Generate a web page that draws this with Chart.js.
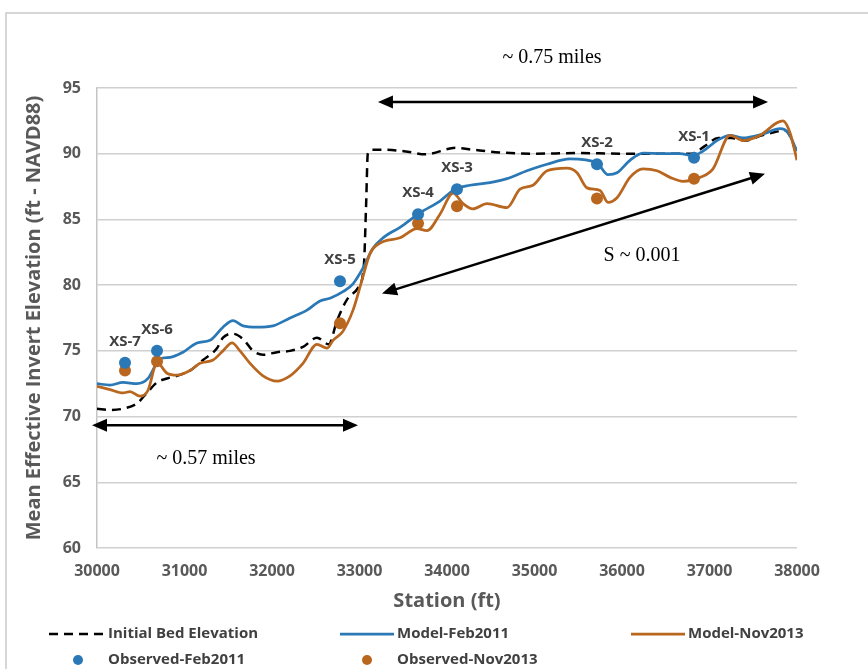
<!DOCTYPE html>
<html><head><meta charset="utf-8">
<script src="https://cdn.jsdelivr.net/npm/chart.js@4/dist/chart.umd.min.js"></script>
<style>html,body{margin:0;padding:0;background:#fff;overflow:hidden}#wrap{width:868px;height:669px;position:relative}</style>
</head><body><div id="wrap"><canvas id="c" width="868" height="669"></canvas></div>
<script>
// ---- data ----
const bedStation = [30000,30149,30297,30457,30570,30686,30800,30914,31063,31211,31371,31440,31554,31669,31783,31897,32057,32206,32354,32514,32650,32743,32857,32983,33050,33075,33095,33150,33300,33550,33750,34100,34300,34600,35000,35500,36000,36500,36800,36950,37100,37250,37400,37600,37780,37850,37950,38000];
const bedElev    = [70.6,70.5,70.6,71.0,71.8,72.6,72.9,73.1,73.5,74.3,75.2,76.0,76.3,75.9,75.0,74.7,74.9,75.0,75.3,76.0,75.5,77.3,78.9,79.8,81.5,86.0,90.0,90.3,90.3,90.15,89.95,90.45,90.3,90.1,90.0,90.05,90.0,90.0,90.0,90.6,91.2,91.2,91.0,91.4,91.7,91.8,90.9,89.7];

const feb2011Station = [30000,30149,30297,30457,30583,30660,30720,30834,30983,31143,31291,31440,31554,31669,31829,32011,32206,32400,32549,32663,32811,32926,33040,33154,33269,33463,33691,33920,34091,34263,34491,34686,34914,35143,35406,35714,35840,35943,36091,36240,36469,36663,36811,36926,37086,37234,37383,37611,37806,37897,38000];
const feb2011Elev    = [72.5,72.4,72.6,72.5,72.9,73.8,74.4,74.5,74.9,75.6,75.8,76.8,77.3,76.9,76.8,76.9,77.5,78.1,78.8,79.0,79.5,80.1,81.3,82.8,83.6,84.4,85.5,86.4,87.3,87.6,87.8,88.1,88.7,89.2,89.6,89.3,88.4,88.55,89.5,90.05,90.0,90.0,89.85,90.2,91.0,91.4,91.2,91.5,91.9,91.6,90.2];

const nov2013Station = [30000,30149,30297,30377,30491,30583,30686,30800,30914,31063,31177,31326,31440,31543,31634,31749,31897,32057,32206,32354,32514,32629,32697,32811,32926,33029,33120,33234,33463,33657,33771,33920,34069,34183,34297,34457,34686,34834,34983,35143,35371,35486,35600,35749,35840,35943,36091,36240,36400,36549,36697,36891,37040,37234,37383,37577,37771,37840,37920,38000];
const nov2013Elev    = [72.3,72.05,71.8,71.9,71.55,72.0,74.1,73.3,73.15,73.5,74.05,74.3,75.0,75.6,75.0,74.05,73.1,72.7,73.1,74.05,75.5,75.2,75.8,76.5,78.1,80.4,82.4,83.2,83.6,84.3,84.15,85.4,87.0,86.2,85.8,86.2,85.9,87.3,87.6,88.7,88.9,88.55,87.4,87.2,86.3,86.65,88.2,88.85,88.7,88.2,87.9,88.2,88.85,91.4,91.0,91.4,92.35,92.5,91.6,89.5];

const xsLabels  = ['XS-7','XS-6','XS-5','XS-4','XS-3','XS-2','XS-1'];
const xsStation = [30320,30686,32777,33669,34114,35714,36823];
const obsFeb2011 = [74.1,75.0,80.3,85.4,87.3,89.2,89.7];
const obsNov2013 = [73.5,74.2,77.1,84.7,86.0,86.6,88.1];

const seriesNames = ['Initial Bed Elevation','Model-Feb2011','Model-Nov2013','Observed-Feb2011','Observed-Nov2013'];
const xTitle = 'Station (ft)';
const yTitle = 'Mean Effective Invert Elevation (ft - NAVD88)';

// annotation arrows (double headed) in data units
const arrowFromStation = [33211, 29943, 33257];
const arrowFromElev    = [93.94, 69.34, 79.36];
const arrowToStation   = [37669, 32983, 37634];
const arrowToElev      = [93.94, 69.34, 88.47];
const noteTexts   = ['~ 0.75 miles','~ 0.57 miles','S ~ 0.001'];
const noteStation = [35200, 31246, 36229];
const noteElev    = [97.28, 66.76, 82.25];

// ---- styles ----
const BLUE = '#2a78b6', ORANGE = '#b9661f', GRAY = '#595959';
const pts = (xs, ys) => xs.map((x, i) => ({x, y: ys[i]}));

const framePlugin = {
  id: 'frame',
  beforeDraw(chart) {
    const ctx = chart.ctx;
    ctx.save();
    ctx.fillStyle = '#fff';
    ctx.fillRect(0, 0, chart.width, chart.height);
    ctx.strokeStyle = '#c9c9c9';
    ctx.lineWidth = 1.5;
    ctx.beginPath();
    ctx.moveTo(6, chart.height);
    ctx.lineTo(6, 13);
    ctx.lineTo(chart.width, 13);
    ctx.stroke();
    ctx.restore();
  }
};

function arrowHead(ctx, x, y, ang) {
  const L = 15, W = 6.5;
  ctx.beginPath();
  ctx.moveTo(x, y);
  ctx.lineTo(x - L * Math.cos(ang) + W * Math.sin(ang), y - L * Math.sin(ang) - W * Math.cos(ang));
  ctx.lineTo(x - L * Math.cos(ang) - W * Math.sin(ang), y - L * Math.sin(ang) + W * Math.cos(ang));
  ctx.closePath();
  ctx.fill();
}

const annotPlugin = {
  id: 'annot',
  afterDatasetsDraw(chart) {
    const ctx = chart.ctx, xs = chart.scales.x, ys = chart.scales.y;
    ctx.save();
    ctx.strokeStyle = '#000';
    ctx.fillStyle = '#000';
    ctx.lineWidth = 2.5;
    for (let i = 0; i < arrowFromStation.length; i++) {
      const x1 = xs.getPixelForValue(arrowFromStation[i]), y1 = ys.getPixelForValue(arrowFromElev[i]);
      const x2 = xs.getPixelForValue(arrowToStation[i]), y2 = ys.getPixelForValue(arrowToElev[i]);
      const ang = Math.atan2(y2 - y1, x2 - x1);
      ctx.beginPath();
      ctx.moveTo(x1 + 10 * Math.cos(ang), y1 + 10 * Math.sin(ang));
      ctx.lineTo(x2 - 10 * Math.cos(ang), y2 - 10 * Math.sin(ang));
      ctx.stroke();
      arrowHead(ctx, x2, y2, ang);
      arrowHead(ctx, x1, y1, ang + Math.PI);
    }
    ctx.font = '20px "Liberation Serif", "Times New Roman", serif';
    ctx.textAlign = 'center';
    ctx.textBaseline = 'middle';
    for (let i = 0; i < noteTexts.length; i++) {
      ctx.fillText(noteTexts[i], xs.getPixelForValue(noteStation[i]), ys.getPixelForValue(noteElev[i]));
    }
    ctx.font = 'bold 15px "Open Sans", sans-serif';
    ctx.fillStyle = '#404040';
    ctx.textBaseline = 'alphabetic';
    for (let i = 0; i < xsLabels.length; i++) {
      ctx.fillText(xsLabels[i], xs.getPixelForValue(xsStation[i]), ys.getPixelForValue(obsFeb2011[i]) - 17);
    }
    ctx.restore();
  }
};

const legendPlugin = {
  id: 'customLegend',
  afterDraw(chart) {
    const ctx = chart.ctx, ds = chart.data.datasets;
    const items = [
      {name: seriesNames[0], kind: 'line', sx: 49, tx: 108, y: 634},
      {name: seriesNames[1], kind: 'line', sx: 340, tx: 397, y: 634},
      {name: seriesNames[2], kind: 'line', sx: 631, tx: 688, y: 634},
      {name: seriesNames[3], kind: 'dot', sx: 78, tx: 108, y: 660},
      {name: seriesNames[4], kind: 'dot', sx: 367, tx: 397, y: 660}
    ];
    ctx.save();
    ctx.font = 'bold 15px "Open Sans", sans-serif';
    ctx.textBaseline = 'middle';
    ctx.textAlign = 'left';
    for (const it of items) {
      const d = ds.find(e => e.label === it.name);
      if (it.kind === 'line') {
        ctx.strokeStyle = d.borderColor;
        ctx.lineWidth = d.borderWidth;
        ctx.setLineDash(d.borderDash || []);
        ctx.beginPath();
        ctx.moveTo(it.sx, it.y);
        ctx.lineTo(it.sx + 54, it.y);
        ctx.stroke();
        ctx.setLineDash([]);
      } else {
        ctx.fillStyle = d.backgroundColor;
        ctx.beginPath();
        ctx.arc(it.sx, it.y, 5, 0, Math.PI * 2);
        ctx.fill();
      }
      ctx.fillStyle = '#404040';
      ctx.fillText(d.label, it.tx, it.y);
    }
    ctx.restore();
  }
};

const tickFont = {family: '"Open Sans", sans-serif', size: 16, weight: 'bold'};
const titleFont = {family: '"Open Sans", sans-serif', size: 20, weight: 'bold'};

new Chart(document.getElementById('c'), {
  type: 'line',
  data: {
    datasets: [
      {label: seriesNames[3], data: pts(xsStation, obsFeb2011), showLine: false, pointRadius: 6, pointHoverRadius: 6,
       backgroundColor: BLUE, borderColor: BLUE, pointBorderWidth: 0, order: 0},
      {label: seriesNames[4], data: pts(xsStation, obsNov2013), showLine: false, pointRadius: 6, pointHoverRadius: 6,
       backgroundColor: ORANGE, borderColor: ORANGE, pointBorderWidth: 0, order: 0},
      {label: seriesNames[2], data: pts(nov2013Station, nov2013Elev), borderColor: ORANGE, backgroundColor: ORANGE,
       borderWidth: 2.75, pointRadius: 0, cubicInterpolationMode: 'monotone', order: 1},
      {label: seriesNames[1], data: pts(feb2011Station, feb2011Elev), borderColor: BLUE, backgroundColor: BLUE,
       borderWidth: 2.75, pointRadius: 0, cubicInterpolationMode: 'monotone', order: 2},
      {label: seriesNames[0], data: pts(bedStation, bedElev), borderColor: '#000', backgroundColor: '#000',
       borderWidth: 2.5, borderDash: [9, 6], pointRadius: 0, cubicInterpolationMode: 'monotone', order: 3}
    ]
  },
  options: {
    responsive: false,
    animation: false,
    devicePixelRatio: 1,
    layout: {padding: {left: 0, right: 71, top: 88, bottom: 56}},
    plugins: {legend: {display: false}, tooltip: {enabled: false}},
    scales: {
      x: {
        type: 'linear', min: 30000, max: 38000,
        afterFit(s) { s.height = 65; },
        grid: {display: false, drawTicks: false},
        border: {display: false},
        ticks: {stepSize: 1000, padding: 14, color: GRAY, font: tickFont, maxRotation: 0, callback: v => String(v)},
        title: {display: true, text: xTitle, color: GRAY, font: titleFont, padding: {top: 0, bottom: 0}}
      },
      y: {
        min: 60, max: 95,
        afterFit(s) { s.width = 97; },
        grid: {color: '#d0d0d0', lineWidth: 1.5, drawTicks: false},
        border: {display: true, color: '#c4c4c4', width: 1.5},
        ticks: {stepSize: 5, padding: 16, color: GRAY, font: tickFont},
        title: {display: true, text: yTitle, color: GRAY, font: titleFont, padding: {top: 22, bottom: 0}}
      }
    }
  },
  plugins: [framePlugin, annotPlugin, legendPlugin]
});
</script>
</body></html>
